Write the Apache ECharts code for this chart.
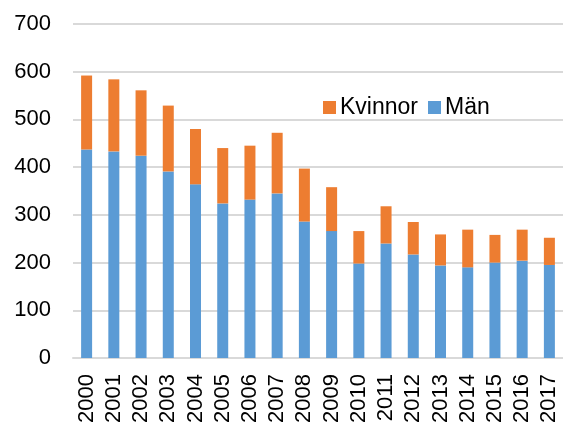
<!DOCTYPE html>
<html>
<head>
<meta charset="utf-8">
<style>
  html, body { margin: 0; padding: 0; background: #fff; }
  #chart { width: 563px; height: 428px; }
</style>
<script src="https://cdn.jsdelivr.net/npm/echarts@6/dist/echarts.min.js"></script>
</head>
<body>
<div id="chart"></div>
<script>
// data
const years = ['2000', '2001', '2002', '2003', '2004', '2005', '2006', '2007', '2008',
    '2009', '2010', '2011', '2012', '2013', '2014', '2015', '2016', '2017'];
const man = [437, 433, 424, 391, 364, 324, 332, 345, 286, 266, 198, 240, 217, 194, 190, 200, 204, 195];
const kvinnor = [155, 151, 137, 138, 116, 116, 113, 127, 111, 92, 68, 78, 68, 65, 79, 58, 65, 57];
const yTicks = [0, 100, 200, 300, 400, 500, 600, 700];

const font = 'Liberation Sans, Arial, sans-serif';

var myChart = echarts.init(document.getElementById('chart'));

var option = {
    animation: false,
    textStyle: { fontFamily: font },
    grid: {
        left: 73,
        top: 24,
        width: 492,
        height: 334
    },
    legend: {
        data: ['Kvinnor', 'Män'],
        left: 318,
        top: 91,
        icon: 'rect',
        itemWidth: 13,
        itemHeight: 13,
        itemGap: 10,
        textStyle: { fontSize: 23, color: '#000', fontFamily: font, padding: [0, 0, 0, -1] }
    },
    xAxis: {
        type: 'category',
        data: years,
        axisLine: { lineStyle: { color: '#d9d9d9', width: 2 } },
        axisTick: { show: false },
        axisLabel: {
            interval: 0,
            rotate: 90,
            margin: 16,
            fontSize: 22,
            color: '#000',
            fontFamily: font
        }
    },
    yAxis: {
        type: 'value',
        min: yTicks[0],
        max: yTicks[yTicks.length - 1],
        interval: 100,
        axisLine: { show: false },
        axisTick: { show: false },
        splitLine: { lineStyle: { color: '#d9d9d9', width: 2 } },
        axisLabel: {
            margin: 22,
            fontSize: 22,
            color: '#000',
            fontFamily: font
        }
    },
    series: [{
        name: 'Män',
        type: 'bar',
        stack: 'total',
        data: man,
        barWidth: 11,
        itemStyle: { color: '#5b9bd5' }
    }, {
        name: 'Kvinnor',
        type: 'bar',
        stack: 'total',
        data: kvinnor,
        barWidth: 11,
        itemStyle: { color: '#ed7d31' }
    }]
};

myChart.setOption(option);
</script>
</body>
</html>
